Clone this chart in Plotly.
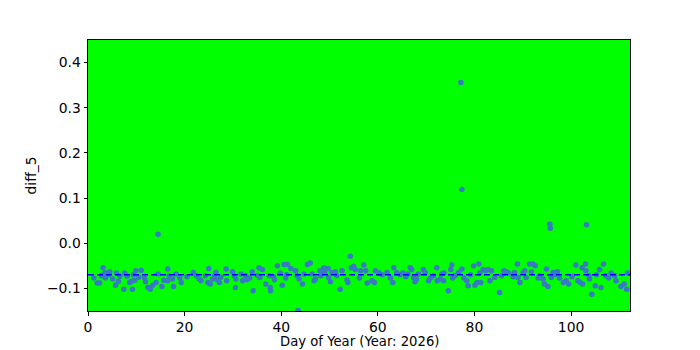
import plotly.graph_objects as go

# Day of year values (x) and diff_5 values (y)
day = [
    1.2, 1.9, 2.4, 3.1, 3.5, 3.8, 3.6, 4.5, 4.3, 5.7, 5.9, 6.3, 6.6, 7.4, 7.6, 8.1, 8.6, 9.0, 9.2, 9.4,
    9.7, 9.9, 11.0, 11.7, 11.9, 12.4, 12.9, 13.4, 14.1, 14.5, 14.5, 15.3, 15.7, 2.8, 5.1, 10.5,
    16.5, 16.5, 16.8, 17.5, 17.7, 19.0, 19.3, 21.8, 22.4, 23.0, 23.4, 24.3, 24.8, 25.0, 25.3, 25.8,
    26.2, 26.5, 26.8, 27.2, 27.5, 28.6, 28.7, 29.9, 30.3, 30.6, 30.5, 31.7, 32.0, 18.2, 20.5,
    32.6, 32.9, 34.0, 34.2, 35.1, 35.4, 35.6, 36.1, 36.8, 37.5, 37.7, 37.8, 38.4, 38.6, 39.2, 40.2,
    40.6, 40.9, 41.3, 41.1, 42.0, 43.0, 43.3, 43.7, 44.4, 44.7, 45.4, 46.0, 46.4, 46.8, 47.1, 48.0,
    48.2, 43.5, 33.5, 39.8,
    48.8, 49.0, 49.7, 49.8, 50.2, 50.5, 51.2, 51.5, 52.2, 52.6, 53.6, 53.8, 54.3, 54.5, 55.0, 55.3,
    56.2, 56.4, 57.1, 57.5, 57.8, 58.8, 59.3, 59.5, 60.3, 60.9, 61.9, 62.6, 63.1, 63.3, 63.9,
    64.6, 65.2, 65.8, 66.2,
    66.7, 67.0, 67.4, 67.7, 68.0, 68.4, 69.4, 69.8, 70.5, 70.9, 72.2, 72.3, 72.9, 73.2, 73.6, 73.7,
    74.6, 75.1, 75.3, 75.5, 76.0, 76.7, 77.4, 77.8, 78.4, 78.7, 79.2, 79.8, 80.1, 80.5, 77.2, 77.4,
    71.5,
    80.9, 81.1, 81.3, 81.8, 82.3, 82.8, 83.2, 83.5, 84.2, 85.2, 85.6, 86.1, 86.6, 87.1, 88.0, 88.3,
    88.9, 89.0, 89.4, 90.1, 90.4, 90.7, 91.4, 91.8, 92.1, 92.6, 93.2, 93.5, 94.2, 94.5, 94.9, 95.2,
    95.9, 96.3, 96.6, 95.6, 95.7,
    97.2, 97.6, 98.4, 99.0, 99.5, 100.2, 101.0, 101.4, 101.9, 102.3, 102.4, 103.0, 103.1, 103.7,
    103.8, 104.3, 105.0, 105.3, 105.9, 106.2, 106.7, 107.2, 107.8, 108.3, 109.0, 109.3, 110.3,
    111.0, 111.5, 111.7, 103.2,
]
diff_5 = [
    -0.077, -0.088, -0.088, -0.054, -0.066, -0.066, -0.077, -0.063, -0.070, -0.093, -0.066, -0.084,
    -0.073, -0.102, -0.066, -0.073, -0.087, -0.084, -0.102, -0.070, -0.082, -0.061, -0.060, -0.077,
    -0.085, -0.098, -0.102, -0.093, -0.087, -0.068, 0.020, -0.096, -0.082, -0.072, -0.079, -0.075,
    -0.057, -0.083, -0.072, -0.079, -0.096, -0.077, -0.087, -0.065, -0.072, -0.079, -0.083, -0.072,
    -0.087, -0.056, -0.090, -0.079, -0.072, -0.065, -0.081, -0.087, -0.075, -0.057, -0.083, -0.063,
    -0.072, -0.079, -0.098, -0.068, -0.083, -0.068, -0.074,
    -0.072, -0.081, -0.063, -0.105, -0.072, -0.054, -0.076, -0.058, -0.090, -0.072, -0.098, -0.105,
    -0.074, -0.081, -0.050, -0.093, -0.047, -0.077, -0.047, -0.070, -0.056, -0.061, -0.072, -0.079,
    -0.090, -0.068, -0.047, -0.044, -0.068, -0.083, -0.079, -0.061, -0.072, -0.149, -0.077, -0.066,
    -0.054, -0.065, -0.056, -0.076, -0.085, -0.065, -0.063, -0.072, -0.102, -0.061, -0.081, -0.087,
    -0.029, -0.054, -0.051, -0.058, -0.077, -0.061, -0.048, -0.061, -0.088, -0.083, -0.087, -0.061,
    -0.066, -0.070, -0.065, -0.077, -0.087, -0.054, -0.065,
    -0.070, -0.066, -0.074, -0.068,
    -0.054, -0.058, -0.076, -0.085, -0.079, -0.068, -0.058, -0.065, -0.083, -0.077, -0.054, -0.083,
    -0.079, -0.068, -0.083, -0.066, -0.105, -0.058, -0.048, -0.077, -0.072, -0.065, -0.057, -0.077,
    -0.083, -0.094, -0.070, -0.050, -0.093, -0.087, 0.356, 0.119,
    -0.072,
    -0.046, -0.066, -0.087, -0.058, -0.061, -0.058, -0.083, -0.061, -0.076, -0.109, -0.072, -0.061,
    -0.063, -0.066, -0.074, -0.065, -0.046, -0.076, -0.087, -0.065, -0.061, -0.076, -0.046, -0.063,
    -0.046, -0.050, -0.077, -0.072, -0.079, -0.090, -0.057, -0.096, -0.076, -0.065, -0.070,
    0.042, 0.033,
    -0.063, -0.077, -0.087, -0.083, -0.090, -0.074, -0.048, -0.083, -0.087, -0.054, -0.090, -0.046,
    -0.061, -0.072, -0.079, -0.113, -0.094, -0.070, -0.058, -0.098, -0.046, -0.072, -0.077, -0.066,
    -0.072, -0.083, -0.096, -0.090, -0.102, -0.066, 0.041,
]
ref_level = -0.07
x_ticks = [0, 20, 40, 60, 80, 100]
y_ticks = [-0.1, 0.0, 0.1, 0.2, 0.3, 0.4]
x_title = "Day of Year (Year: 2026)"
y_title = "diff_5"

font = dict(family="DejaVu Sans", size=13.9, color="black")

fig = go.Figure()
fig.add_trace(go.Scatter(
    x=day, y=diff_5, mode="markers",
    marker=dict(size=5.5, color="#3779c2", line=dict(width=0)),
    showlegend=False,
))
fig.add_hline(y=ref_level, line=dict(color="#0000ff", width=1.5, dash="6px,3px"), layer="above")

axis_common = dict(
    showgrid=False, zeroline=False, showline=True, mirror=True,
    linecolor="black", linewidth=1,
    ticks="outside", ticklen=3.5, tickwidth=0.8, tickcolor="black",
    tickfont=font,
)
fig.update_xaxes(range=[0, 112.2], tickvals=x_ticks, ticktext=[str(v) for v in x_ticks], **axis_common)
fig.update_yaxes(range=[-0.15, 0.45], tickvals=y_ticks, tickformat=".1f", **axis_common)

fig.add_annotation(text=x_title, xref="paper", yref="paper", x=0.5, y=-0.143,
                   xanchor="center", yanchor="bottom", showarrow=False, borderpad=0,
                   font=dict(family="DejaVu Sans", size=13.2, color="black"))
fig.add_annotation(text=y_title, xref="paper", yref="paper", x=-0.107, y=0.5,
                   xanchor="center", yanchor="middle", textangle=-90, showarrow=False, font=font)

fig.update_layout(
    width=700, height=350,
    margin=dict(l=88, r=70, t=40, b=39, autoexpand=False),
    paper_bgcolor="white", plot_bgcolor="#00ff00",
    font=font,
)
fig.write_html("out.html")
